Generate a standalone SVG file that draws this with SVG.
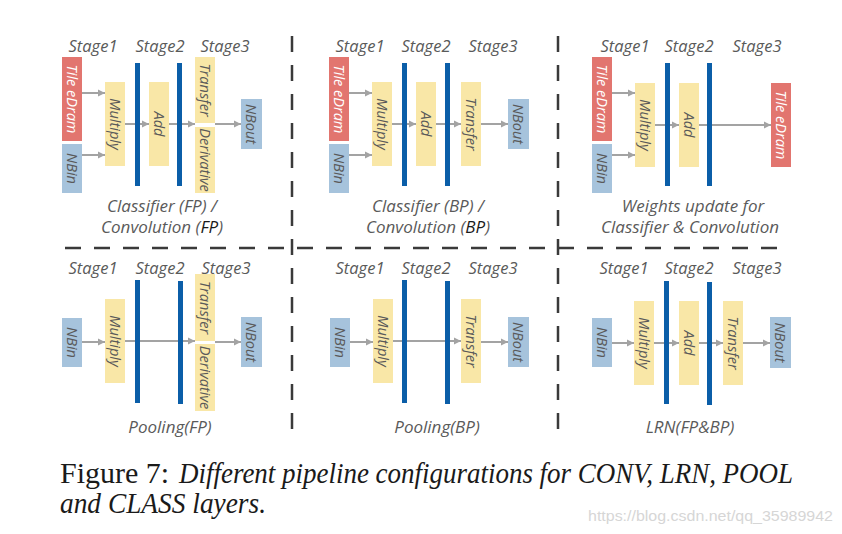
<svg xmlns="http://www.w3.org/2000/svg" width="842" height="534" viewBox="0 0 842 534">
<style>
.red{fill:#E2756F}
.blu{fill:#A6C3DC}
.yel{fill:#F9E7A7}
.bar{fill:#0B5EA8}
.st{font-family:"Open Sans","Noto Sans",sans-serif;font-style:italic;font-size:16.5px;fill:#5a5a5a;text-anchor:middle}
.bt{font-family:"Open Sans","Noto Sans",sans-serif;font-style:italic;font-size:14.5px;fill:#5a5a5a;text-anchor:middle;dominant-baseline:central}
.wt{fill:#ffffff}
.cap{font-family:"Open Sans","Noto Sans",sans-serif;font-style:italic;font-size:17px;fill:#5a5a5a;text-anchor:middle}
.dk{fill:#1a1a1a}
.arr{stroke:#A3A3A3;stroke-width:2;fill:none;marker-end:url(#ah)}
.dash{stroke:#3a3a3a;stroke-width:2.5;stroke-dasharray:16 13;fill:none}
.fig{font-family:"Liberation Serif","Times New Roman",serif;fill:#1a1a1a}
</style>
<defs>
<marker id="ah" markerUnits="userSpaceOnUse" markerWidth="8" markerHeight="8" refX="7" refY="4" orient="auto">
<path d="M0,0.5 L7,4 L0,7.5 z" fill="#A3A3A3"/>
</marker>
</defs>
<rect width="842" height="534" fill="#ffffff"/>

<!-- separators -->
<g id="separators">
<line class="dash" x1="65" y1="248" x2="782" y2="248"/>
<line class="dash" x1="292" y1="36" x2="292" y2="432"/>
<line class="dash" x1="558" y1="36" x2="558" y2="432"/>
</g>

<!-- stage labels -->
<g id="stage-labels">
<text class="st" x="93" y="52">Stage1</text><text class="st" x="160" y="52">Stage2</text><text class="st" x="225" y="52">Stage3</text>
<text class="st" x="360" y="52">Stage1</text><text class="st" x="426" y="52">Stage2</text><text class="st" x="493" y="52">Stage3</text>
<text class="st" x="625" y="52">Stage1</text><text class="st" x="689" y="52">Stage2</text><text class="st" x="757" y="52">Stage3</text>
<text class="st" x="93" y="274">Stage1</text><text class="st" x="160" y="274">Stage2</text><text class="st" x="226" y="274">Stage3</text>
<text class="st" x="360" y="274">Stage1</text><text class="st" x="426" y="274">Stage2</text><text class="st" x="493" y="274">Stage3</text>
<text class="st" x="624" y="274">Stage1</text><text class="st" x="689" y="274">Stage2</text><text class="st" x="757" y="274">Stage3</text>
</g>

<!-- connectors -->
<g id="connectors">
<line class="arr" x1="82" y1="93" x2="105" y2="93"/>
<line class="arr" x1="82" y1="155" x2="105" y2="155"/>
<line class="arr" x1="125" y1="124" x2="149" y2="124"/>
<line class="arr" x1="169" y1="124" x2="195" y2="124"/>
<line class="arr" x1="215" y1="124" x2="241" y2="124"/>

<line class="arr" x1="349" y1="93" x2="372" y2="93"/>
<line class="arr" x1="349" y1="155" x2="372" y2="155"/>
<line class="arr" x1="392" y1="124" x2="416" y2="124"/>
<line class="arr" x1="436" y1="124" x2="461" y2="124"/>
<line class="arr" x1="481" y1="124" x2="508" y2="124"/>

<line class="arr" x1="612" y1="93" x2="635" y2="93"/>
<line class="arr" x1="612" y1="155" x2="635" y2="155"/>
<line class="arr" x1="655" y1="125" x2="679" y2="125"/>
<line class="arr" x1="699" y1="125" x2="771" y2="125"/>

<line class="arr" x1="82" y1="342" x2="105" y2="342"/>
<line class="arr" x1="125" y1="341" x2="195" y2="341"/>
<line class="arr" x1="215" y1="342" x2="241" y2="342"/>

<line class="arr" x1="350" y1="342" x2="373" y2="342"/>
<line class="arr" x1="393" y1="341" x2="461" y2="341"/>
<line class="arr" x1="481" y1="342" x2="508" y2="342"/>

<line class="arr" x1="612" y1="343" x2="634" y2="343"/>
<line class="arr" x1="654" y1="343" x2="679" y2="343"/>
<line class="arr" x1="699" y1="343" x2="723" y2="343"/>
<line class="arr" x1="743" y1="343" x2="770" y2="343"/>
</g>

<!-- Panel 1: Classifier (FP) / Convolution (FP) -->
<g id="p1-tile"><rect class="red" x="62" y="57" width="20" height="84"/><text class="bt wt" transform="translate(72,99) rotate(90)">Tile eDram</text></g>
<g id="p1-nbin"><rect class="blu" x="62" y="144" width="20" height="49"/><text class="bt" transform="translate(72,168.5) rotate(90)">NBin</text></g>
<g id="p1-multiply"><rect class="yel" x="105" y="82" width="20" height="84"/><text class="bt" transform="translate(115,124) rotate(90)">Multiply</text></g>
<g id="p1-bar1"><rect class="bar" x="135" y="63" width="5" height="123"/></g>
<g id="p1-add"><rect class="yel" x="149" y="82" width="20" height="84"/><text class="bt" transform="translate(159,124) rotate(90)">Add</text></g>
<g id="p1-bar2"><rect class="bar" x="177" y="63" width="5" height="123"/></g>
<g id="p1-transfer"><rect class="yel" x="195" y="57" width="20" height="66"/><text class="bt" transform="translate(205,90) rotate(90)">Transfer</text></g>
<g id="p1-derivative"><rect class="yel" x="195" y="127" width="20" height="66"/><text class="bt" transform="translate(205,160) rotate(90)">Derivative</text></g>
<g id="p1-nbout"><rect class="blu" x="241" y="99" width="21" height="50"/><text class="bt" transform="translate(251.5,124) rotate(90)">NBout</text></g>
<g id="p1-caption"><text class="cap" x="162" y="212">Classifier (FP) /</text><text class="cap" x="162" y="233">Convolution (<tspan class="dk">FP</tspan>)</text></g>

<!-- Panel 2: Classifier (BP) / Convolution (BP) -->
<g id="p2-tile"><rect class="red" x="329" y="57" width="20" height="84"/><text class="bt wt" transform="translate(339,99) rotate(90)">Tile eDram</text></g>
<g id="p2-nbin"><rect class="blu" x="329" y="144" width="20" height="49"/><text class="bt" transform="translate(339,168.5) rotate(90)">NBin</text></g>
<g id="p2-multiply"><rect class="yel" x="372" y="82" width="20" height="84"/><text class="bt" transform="translate(382,124) rotate(90)">Multiply</text></g>
<g id="p2-bar1"><rect class="bar" x="402" y="63" width="5" height="123"/></g>
<g id="p2-add"><rect class="yel" x="416" y="82" width="20" height="84"/><text class="bt" transform="translate(426,124) rotate(90)">Add</text></g>
<g id="p2-bar2"><rect class="bar" x="445" y="63" width="5" height="123"/></g>
<g id="p2-transfer"><rect class="yel" x="461" y="82" width="20" height="84"/><text class="bt" transform="translate(471,124) rotate(90)">Transfer</text></g>
<g id="p2-nbout"><rect class="blu" x="508" y="99" width="21" height="50"/><text class="bt" transform="translate(518.5,124) rotate(90)">NBout</text></g>
<g id="p2-caption"><text class="cap" x="428" y="212">Classifier (BP) /</text><text class="cap" x="428" y="233">Convolution (<tspan class="dk">BP</tspan>)</text></g>

<!-- Panel 3: Weights update -->
<g id="p3-tile"><rect class="red" x="592" y="57" width="20" height="84"/><text class="bt wt" transform="translate(602,99) rotate(90)">Tile eDram</text></g>
<g id="p3-nbin"><rect class="blu" x="592" y="144" width="20" height="49"/><text class="bt" transform="translate(602,168.5) rotate(90)">NBin</text></g>
<g id="p3-multiply"><rect class="yel" x="635" y="83" width="20" height="84"/><text class="bt" transform="translate(645,125) rotate(90)">Multiply</text></g>
<g id="p3-bar1"><rect class="bar" x="665" y="63" width="5" height="123"/></g>
<g id="p3-add"><rect class="yel" x="679" y="83" width="20" height="84"/><text class="bt" transform="translate(689,125) rotate(90)">Add</text></g>
<g id="p3-bar2"><rect class="bar" x="707" y="63" width="5" height="123"/></g>
<g id="p3-tile-out"><rect class="red" x="771" y="83" width="20" height="84"/><text class="bt wt" transform="translate(781,125) rotate(90)">Tile eDram</text></g>
<g id="p3-caption"><text class="cap" x="693" y="212">Weights update for</text><text class="cap" x="690" y="233">Classifier &amp; Convolution</text></g>

<!-- Panel 4: Pooling(FP) -->
<g id="p4-nbin"><rect class="blu" x="62" y="318" width="20" height="49"/><text class="bt" transform="translate(72,342.5) rotate(90)">NBin</text></g>
<g id="p4-multiply"><rect class="yel" x="105" y="299" width="20" height="84"/><text class="bt" transform="translate(115,341) rotate(90)">Multiply</text></g>
<g id="p4-bar1"><rect class="bar" x="135" y="280" width="5" height="123"/></g>
<g id="p4-bar2"><rect class="bar" x="178" y="281" width="5" height="123"/></g>
<g id="p4-transfer"><rect class="yel" x="195" y="274" width="20" height="67"/><text class="bt" transform="translate(205,307.5) rotate(90)">Transfer</text></g>
<g id="p4-derivative"><rect class="yel" x="195" y="344" width="20" height="67"/><text class="bt" transform="translate(205,377.5) rotate(90)">Derivative</text></g>
<g id="p4-nbout"><rect class="blu" x="241" y="317" width="21" height="50"/><text class="bt" transform="translate(251.5,342) rotate(90)">NBout</text></g>
<g id="p4-caption"><text class="cap" x="170" y="433">Pooling(FP)</text></g>

<!-- Panel 5: Pooling(BP) -->
<g id="p5-nbin"><rect class="blu" x="330" y="318" width="20" height="49"/><text class="bt" transform="translate(340,342.5) rotate(90)">NBin</text></g>
<g id="p5-multiply"><rect class="yel" x="373" y="299" width="20" height="84"/><text class="bt" transform="translate(383,341) rotate(90)">Multiply</text></g>
<g id="p5-bar1"><rect class="bar" x="402" y="280" width="5" height="123"/></g>
<g id="p5-bar2"><rect class="bar" x="445" y="281" width="5" height="123"/></g>
<g id="p5-transfer"><rect class="yel" x="461" y="299" width="20" height="84"/><text class="bt" transform="translate(471,341) rotate(90)">Transfer</text></g>
<g id="p5-nbout"><rect class="blu" x="508" y="317" width="21" height="50"/><text class="bt" transform="translate(518.5,342) rotate(90)">NBout</text></g>
<g id="p5-caption"><text class="cap" x="437" y="433">Pooling(BP)</text></g>

<!-- Panel 6: LRN(FP&BP) -->
<g id="p6-nbin"><rect class="blu" x="592" y="318" width="20" height="49"/><text class="bt" transform="translate(602,342.5) rotate(90)">NBin</text></g>
<g id="p6-multiply"><rect class="yel" x="634" y="301" width="20" height="84"/><text class="bt" transform="translate(644,343) rotate(90)">Multiply</text></g>
<g id="p6-bar1"><rect class="bar" x="664" y="281" width="5" height="123"/></g>
<g id="p6-add"><rect class="yel" x="679" y="301" width="20" height="84"/><text class="bt" transform="translate(689,343) rotate(90)">Add</text></g>
<g id="p6-bar2"><rect class="bar" x="707" y="282" width="5" height="123"/></g>
<g id="p6-transfer"><rect class="yel" x="723" y="301" width="20" height="84"/><text class="bt" transform="translate(733,343) rotate(90)">Transfer</text></g>
<g id="p6-nbout"><rect class="blu" x="770" y="317" width="21" height="51"/><text class="bt" transform="translate(780.5,342.5) rotate(90)">NBout</text></g>
<g id="p6-caption"><text class="cap" x="690" y="433">LRN(FP&amp;BP)</text></g>

<!-- figure caption -->
<g id="figure-caption">
<text class="fig" x="60" y="483" font-size="30">Figure 7:</text>
<text class="fig" x="179" y="483" font-size="29" font-style="italic" textLength="614" lengthAdjust="spacingAndGlyphs">Different pipeline configurations for CONV, LRN, POOL</text>
<text class="fig" x="60" y="513" font-size="29" font-style="italic" textLength="206" lengthAdjust="spacingAndGlyphs">and CLASS layers.</text>
</g>
<text x="588" y="521" font-family="'Liberation Sans',Arial,sans-serif" font-size="15" fill="#d6d6d6" textLength="245" lengthAdjust="spacingAndGlyphs">https://blog.csdn.net/qq_35989942</text>
</svg>
